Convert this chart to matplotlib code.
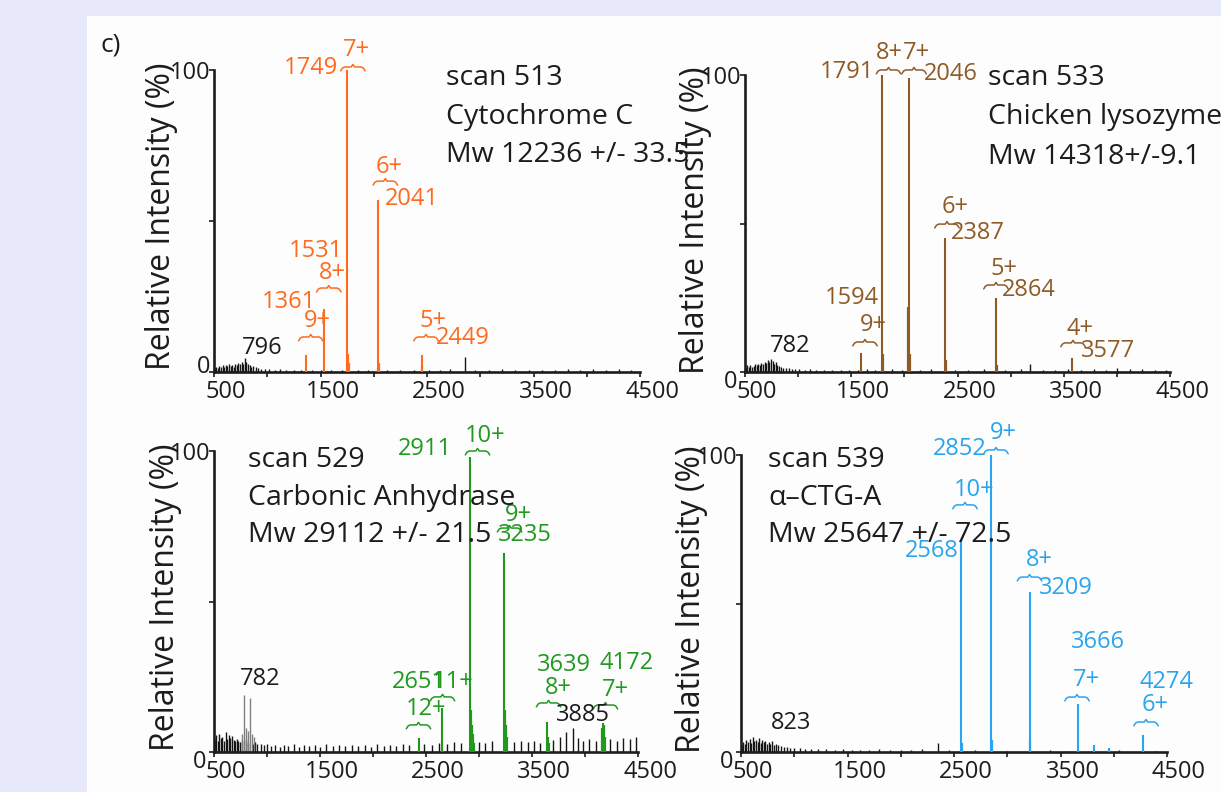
import matplotlib
matplotlib.use('Agg')
import matplotlib.pyplot as plt
from matplotlib.transforms import ScaledTranslation
from matplotlib.patches import Rectangle

plt.rcParams['font.family'] = ['Open Sans', 'DejaVu Sans']

# ---------------- data ----------------
xtick_vals = [500, 1000, 1500, 2000, 2500, 3000, 3500, 4000, 4500]
xtick_labels = ['500', '', '1500', '', '2500', '', '3500', '', '4500']
ytick_vals = [0, 50, 100]
ytick_labels = ['0', '', '100']

# Cytochrome C (scan 513)
cyt_mz = [1361, 1531, 1749, 2041, 2449]
cyt_int = [5.5, 21, 100, 57, 5.5]
cyt_minor_mz = [1757, 1765, 2049, 2455]
cyt_minor_int = [6, 3, 3, 2]
cyt_noise_mz = [505, 520, 535, 550, 565, 580, 595, 610, 625, 640,
                655, 670, 685, 700, 715, 730, 745, 760, 775, 790,
                805, 820, 835, 850, 870, 890, 915, 945, 980, 1020,
                1070, 1120, 1180, 1250, 1320, 1420, 1500, 1600, 1700, 1850,
                1950, 2120, 2250, 2380, 2520, 2620, 2720, 2853, 2950, 3080,
                3200, 3330, 3460, 3580, 3700, 3820, 3940, 4060, 4180, 4300,
                4420]
cyt_noise_int = [1.2, 1.8, 1.4, 2.0, 1.6, 2.2, 1.5, 2.4, 1.9, 2.6,
                 2.0, 2.3, 1.8, 2.8, 2.2, 3.0, 2.5, 3.4, 2.8, 4.5,
                 3.2, 2.6, 2.2, 1.8, 2.0, 1.5, 1.3, 1.1, 1.0, 0.9,
                 0.8, 1.0, 0.7, 0.8, 0.6, 0.7, 0.6, 0.8, 0.7, 0.6,
                 0.8, 0.7, 0.6, 0.8, 0.7, 0.6, 0.9, 5.0, 0.8, 0.7,
                 0.9, 0.7, 0.6, 0.8, 0.7, 0.9, 0.7, 1.0, 0.8, 0.9,
                 0.7]

# Chicken lysozyme (scan 533)
lys_mz = [1594, 1791, 2046, 2387, 2864, 3577]
lys_int = [6.4, 100, 99, 45, 25, 4.7]
lys_minor_mz = [1799, 2038, 2054, 2395, 2872]
lys_minor_int = [6, 22, 6, 4, 2.5]
lys_noise_mz = [505, 520, 535, 550, 565, 580, 595, 610, 625, 640,
                655, 670, 685, 700, 715, 730, 745, 760, 775, 790,
                805, 820, 840, 860, 885, 910, 940, 975, 1010, 1060,
                1110, 1170, 1240, 1320, 1400, 1480, 1560, 1650, 1720, 1880,
                1980, 2150, 2250, 2480, 2600, 2750, 2950, 3100, 3183, 3300,
                3420, 3540, 3660, 3780, 3900, 4000, 4120, 4240, 4360, 4460]
lys_noise_int = [1.5, 2.2, 1.6, 2.4, 1.8, 2.0, 2.6, 2.2, 2.8, 2.4,
                 3.0, 2.6, 3.4, 3.0, 4.0, 3.2, 4.4, 3.6, 2.8, 3.2,
                 2.4, 2.0, 1.8, 1.5, 1.3, 1.2, 1.0, 0.9, 1.0, 0.8,
                 0.9, 0.7, 0.8, 0.7, 0.6, 0.8, 0.7, 1.0, 0.8, 0.9,
                 0.8, 0.7, 0.9, 0.8, 0.7, 0.9, 0.8, 1.0, 2.6, 0.8,
                 0.7, 0.9, 0.8, 1.0, 0.8, 1.2, 0.9, 1.0, 0.8, 0.7]

# Carbonic anhydrase (scan 529)
ca_mz = [2430, 2651, 2911, 3235, 3639, 4172]
ca_int = [4.7, 14.6, 98, 66, 10, 9.6]
ca_minor_mz = [2920, 2930, 2942, 2956, 3244, 3254, 3266, 3648, 3658, 4164, 4180, 4192]
ca_minor_int = [14, 9, 6, 3, 14, 9, 5, 5, 3, 8, 9, 5]
ca_gray_mz = [760, 786, 805, 820, 836, 860, 880]
ca_gray_int = [6, 19, 8, 7, 18, 6, 5]
ca_noise_mz = [505, 520, 535, 550, 565, 580, 595, 610, 625, 640,
               655, 670, 685, 700, 715, 730, 745, 760, 800, 820,
               870, 890, 910, 940, 970, 1000, 1040, 1080, 1120, 1160,
               1200, 1250, 1300, 1350, 1400, 1450, 1500, 1560, 1620, 1680,
               1740, 1800, 1860, 1920, 1980, 2040, 2100, 2160, 2220, 2280,
               2340, 2480, 2560, 2620, 2700, 2760, 2830, 3000, 3060, 3120,
               3330, 3400, 3460, 3520, 3580, 3700, 3760, 3820, 3885, 3930,
               3980, 4040, 4100, 4240, 4300, 4360, 4420, 4480]
ca_noise_int = [4.0, 5.5, 3.5, 6.0, 4.5, 5.0, 3.8, 6.5, 4.2, 5.8,
                4.8, 5.2, 4.0, 3.6, 4.4, 3.8, 3.2, 3.5, 4.0, 3.0,
                2.8, 3.2, 2.5, 2.8, 2.2, 2.6, 2.0, 2.4, 1.8, 2.2,
                2.0, 2.6, 1.8, 2.4, 2.0, 2.2, 1.8, 2.5, 2.0, 2.3,
                1.9, 2.4, 2.0, 2.2, 1.8, 2.5, 2.1, 2.3, 2.0, 2.6,
                2.2, 2.8, 2.4, 3.0, 2.6, 3.2, 3.0, 3.4, 3.0, 3.6,
                3.2, 3.8, 3.4, 3.6, 3.0, 4.0, 5.0, 6.5, 8.0, 4.5,
                3.8, 4.2, 3.6, 4.4, 3.8, 4.6, 4.2, 5.0]

# alpha-CTG-A (scan 539)
ctg_mz = [2568, 2852, 3209, 3666, 3815, 3960, 4274]
ctg_int = [71, 100, 54, 16, 2.5, 1.2, 5.7]
ctg_minor_mz = [2576, 2860, 3217]
ctg_minor_int = [3, 4, 4]
ctg_noise_mz = [505, 520, 535, 550, 565, 580, 595, 610, 625, 640,
                655, 670, 685, 700, 715, 730, 745, 760, 775, 790,
                810, 830, 850, 875, 900, 930, 960, 1000, 1050, 1100,
                1160, 1220, 1300, 1380, 1460, 1540, 1620, 1700, 1800, 1900,
                2000, 2100, 2200, 2350, 2450, 2700, 3000, 3400, 3550, 4050,
                4400]
ctg_noise_int = [2.5, 3.5, 2.8, 4.0, 3.2, 4.5, 3.0, 5.0, 3.6, 4.2,
                 3.4, 4.8, 3.0, 4.0, 3.2, 3.6, 2.8, 3.2, 2.6, 3.8,
                 2.4, 2.8, 2.2, 2.0, 1.8, 1.6, 1.5, 1.3, 1.2, 1.0,
                 1.1, 0.9, 1.0, 0.8, 0.9, 0.7, 0.8, 0.7, 0.9, 0.8,
                 0.7, 0.8, 0.9, 3.0, 0.8, 0.6, 0.5, 0.6, 0.5, 0.6,
                 0.5]

# ---------------- layout / annotations ----------------
ORANGE = '#FF6A1F'
BROWN = '#8E5B26'
GREEN = '#1F9A1F'
BLUE = '#2AA4EE'
INK = '#1c1c1c'

panels = [
    dict(rect=(214, 70, 640, 372), color=ORANGE,
         mz=cyt_mz, inten=cyt_int, mmz=cyt_minor_mz, mint=cyt_minor_int,
         nmz=cyt_noise_mz, nint=cyt_noise_int, gmz=[], gint=[],
         nums=[("1749", 1408, 100.7), ("2041", 2359, 57.3), ("1531", 1460, 40),
               ("1361", 1206, 23.2), ("2449", 2839, 11.3)],
         charges=[("7+", 1837, 106.6), ("6+", 2147, 67.9), ("8+", 1611, 32.8),
                  ("9+", 1474, 16.9), ("5+", 2561, 16.9)],
         braces=[(1804, 101), (2109, 63.2), (1578, 27.8), (1408, 11.6), (2491, 11.6)],
         blacks=[("796", 952, 7.9)],
         info=(["scan 513", "Cytochrome C", "Mw 12236 +/- 33.5"], 2674, [97.4, 84.4, 71.9]),
         ylab=(162, 216), zero_off=(0, 8)),
    dict(rect=(745, 75, 1170, 372), color=BROWN,
         mz=lys_mz, inten=lys_int, mmz=lys_minor_mz, mint=lys_minor_int,
         nmz=lys_noise_mz, nint=lys_noise_int, gmz=[], gint=[],
         nums=[("1791", 1460, 101), ("2046", 2439, 100.3), ("2387", 2693, 46.8),
               ("2864", 3168, 27.6), ("1594", 1507, 24.9), ("3577", 3921, 7.1)],
         charges=[("8+", 1860, 107.4), ("7+", 2114, 107.4), ("6+", 2477, 55.6),
                  ("5+", 2938, 34.7), ("9+", 1705, 15.8), ("4+", 3653, 14.5)],
         braces=[(1851, 101.7), (2091, 101.7), (2401, 49.8), (2862, 29.3),
                 (1629, 10.1), (3587, 9.8)],
         blacks=[("782", 924, 8.8)],
         info=(["scan 533", "Chicken lysozyme", "Mw 14318+/-9.1"], 2787, [99, 85.9, 72.4]),
         ylab=(695, 220), zero_off=(-4, -7)),
    dict(rect=(214, 451, 638, 752), color=GREEN,
         mz=ca_mz, inten=ca_int, mmz=ca_minor_mz, mint=ca_minor_int,
         nmz=ca_noise_mz, nint=ca_noise_int, gmz=ca_gray_mz, gint=ca_gray_int,
         nums=[("2911", 2491, 100.7), ("3235", 3429, 72.1), ("2651", 2434, 23.3),
               ("3639", 3802, 28.9), ("4172", 4396, 29.6)],
         charges=[("10+", 3057, 105), ("9+", 3368, 78.7), ("11+", 2755, 23.3),
                  ("12+", 2500, 14.3), ("8+", 3745, 21.3), ("7+", 4288, 20.6)],
         braces=[(2986, 100), (3288, 74.4), (2656, 18.3), (2429, 9.0),
                 (3656, 16.3), (4193, 15.6)],
         blacks=[("782", 934, 24.3), ("3885", 3976, 12.3)],
         info=(["scan 529", "Carbonic Anhydrase", "Mw 29112 +/- 21.5"], 821, [97, 84.4, 72.1]),
         ylab=(165, 597), zero_off=(-4, -7)),
    dict(rect=(741, 455, 1167, 752), color=BLUE,
         mz=ctg_mz, inten=ctg_int, mmz=ctg_minor_mz, mint=ctg_minor_int,
         nmz=ctg_noise_mz, nint=ctg_noise_int, gmz=[], gint=[],
         nums=[("2852", 2556, 102), ("2568", 2293, 67.7), ("3209", 3552, 55.2),
               ("3666", 3848, 37), ("4274", 4491, 23.6)],
         charges=[("9+", 2960, 107.4), ("10+", 2688, 88.2), ("8+", 3303, 64.6),
                  ("7+", 3740, 24.2), ("6+", 4387, 15.8)],
         braces=[(2894, 101.7), (2603, 83.2), (3209, 58.9), (3655, 18.5), (4303, 10.1)],
         blacks=[("823", 970, 9.8)],
         info=(["scan 539", "\u03b1\u2013CTG-A", "Mw 25647 +/- 72.5"], 754, [98.3, 85.5, 73.1]),
         ylab=(692, 599), zero_off=(-4, -7)),
]

BRACE_U = [-1, -0.86, -0.68, -0.14, 0, 0.14, 0.68, 0.86, 1]
BRACE_V = [-1, -0.3, 0, 0, 0.65, 0, 0, -0.3, -1]

W, H = 1221, 792
fig = plt.figure(figsize=(W / 100, H / 100), dpi=100)
fig.patch.set_facecolor('#E7E8F9')
fig.add_artist(Rectangle((87 / W, 0), 1 - 87 / W, 1 - 16 / H, transform=fig.transFigure,
                         facecolor='#FDFDFD', edgecolor='none', zorder=0))
fig.text(111 / W, 1 - 45 / H, 'c)', fontsize=19, color=INK, ha='center', va='center')

NUM_FS = 17
INFO_FS = 20.5
TICK_FS = 17
YLAB_FS = 23


def brace(ax, xc, y, color, hw=115, hv=1.3):
    ax.plot([xc + u * hw for u in BRACE_U], [y + v * hv for v in BRACE_V],
            color=color, lw=1.1, clip_on=False, solid_capstyle='round')


for p in panels:
    l, t, r, b = p['rect']
    ax = fig.add_axes([l / W, 1 - b / H, (r - l) / W, (b - t) / H])
    ax.set_facecolor('none')
    ax.set_xlim(500, 4500)
    ax.set_ylim(0, 100)
    for sp in ['top', 'right']:
        ax.spines[sp].set_visible(False)
    for sp in ['left', 'bottom']:
        ax.spines[sp].set_linewidth(1.9)
        ax.spines[sp].set_color(INK)
    ax.set_xticks(xtick_vals, labels=xtick_labels)
    ax.set_yticks(ytick_vals, labels=ytick_labels)
    ax.tick_params(axis='both', direction='out', length=3.5, width=1.2, color=INK,
                   labelsize=TICK_FS, labelcolor=INK)
    ax.tick_params(axis='x', pad=2)
    ax.tick_params(axis='y', pad=-1)
    off = ScaledTranslation(12 / 100, 0, fig.dpi_scale_trans)
    for lab in ax.get_xticklabels():
        lab.set_transform(lab.get_transform() + off)
    ylabs = ax.get_yticklabels()
    dx, dy = p['zero_off']
    ylabs[0].set_transform(ylabs[0].get_transform() +
                           ScaledTranslation(dx / 100, dy / 100, fig.dpi_scale_trans))

    # spectrum
    ax.vlines(p['nmz'], 0, p['nint'], color='#151515', lw=1.0, zorder=2)
    if p['gmz']:
        ax.vlines(p['gmz'], 0, p['gint'], color='#808080', lw=1.0, zorder=2)
    ax.vlines(p['mmz'], 0, p['mint'], color=p['color'], lw=1.6, zorder=3)
    ax.vlines(p['mz'], 0, p['inten'], color=p['color'], lw=1.5, zorder=3)

    col = p['color']
    for s, x, y in p['nums']:
        ax.text(x, y, s, color=col, fontsize=NUM_FS, ha='center', va='center', zorder=5)
    for s, x, y in p['charges']:
        ax.text(x, y, s, color=col, fontsize=NUM_FS, ha='center', va='center', zorder=5)
    for x, y in p['braces']:
        brace(ax, x, y, col)
    for s, x, y in p['blacks']:
        ax.text(x, y, s, color=INK, fontsize=NUM_FS, ha='center', va='center', zorder=5)
    lines, x0, ys = p['info']
    for s, y in zip(lines, ys):
        ax.text(x0, y, s, color=INK, fontsize=INFO_FS, ha='left', va='center', zorder=5)

    yx, yy = p['ylab']
    ax.text((yx - l) / (r - l), (b - yy) / (b - t), 'Relative Intensity (%)',
            transform=ax.transAxes, rotation=90, ha='center', va='center',
            fontsize=YLAB_FS, color=INK)

fig.savefig('out.png', dpi=100, facecolor=fig.get_facecolor())
